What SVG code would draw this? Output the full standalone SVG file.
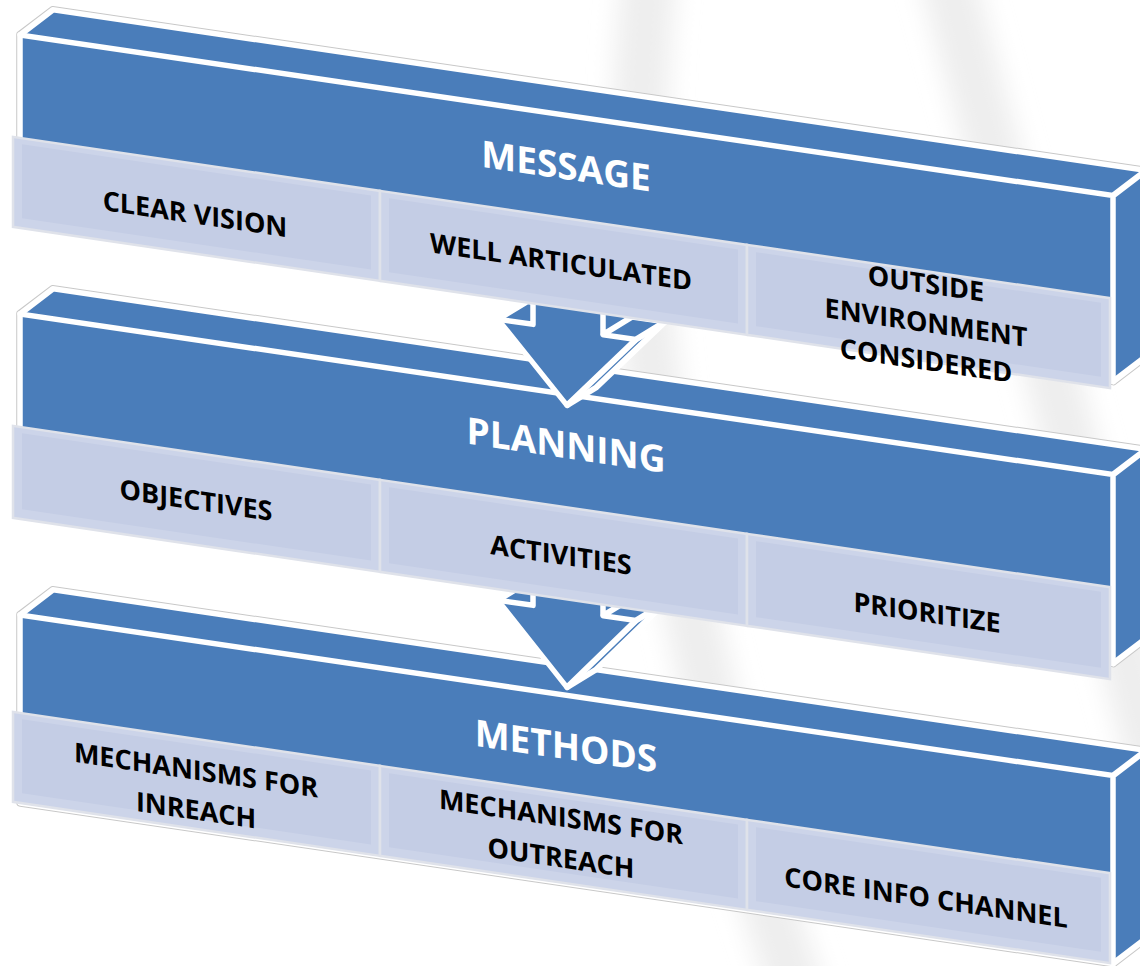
<svg xmlns="http://www.w3.org/2000/svg" width="1140" height="966" viewBox="0 0 1140 966">
<defs>
<filter id="soft" x="-20%" y="-20%" width="140%" height="140%"><feGaussianBlur stdDeviation="12"/></filter>
<style>
.bo{fill:none;stroke:#c8c8c8;stroke-width:7.5;stroke-linejoin:round}
.bf{fill:#4a7dba;stroke:#fff;stroke-width:5.5;stroke-linejoin:round}
.wl{fill:none;stroke:#fff;stroke-width:5.5;stroke-linejoin:round;stroke-linecap:round}
.bx{fill:#ccd4e9;stroke:#dfe2ea;stroke-width:2.5}
.bi{fill:#c4cde5;stroke:none}
.arr{fill:#4a7dba;stroke:#fff;stroke-width:5.5;stroke-linejoin:round}
.t{font-family:"Open Sans","Liberation Sans",sans-serif;font-weight:700;font-size:27px;fill:#000;text-anchor:middle}
.h{font-family:"Open Sans","Liberation Sans",sans-serif;font-weight:700;font-size:37px;fill:#fff;text-anchor:middle}
</style>
</defs>
<rect width="1140" height="966" fill="#fff"/>
<g id="watermark" fill="none" stroke="#eeeeee" stroke-width="55" filter="url(#soft)">
<path d="M650,-30 Q600,420 800,1000"/>
<path d="M945,-30 L1180,860"/>
</g>
<g transform="matrix(1,0.147,0,1,0,0)">
<g id="bar-message">
<polygon class="bo" points="20,32 53,2 1146,2 1146,188 1113,218 20,218"/>
<polygon class="bf" points="20,32 53,2 1146,2 1146,188 1113,218 20,218"/>
<path class="wl" d="M20,32 H1113 L1146,2 M1113,32 V218"/>
<text class="h" x="566" y="96">MESSAGE</text>
</g>
<g id="bar-planning">
<polygon class="bo" points="20,311 53,281 1146,281 1146,470 1113,500 20,500"/>
<polygon class="bf" points="20,311 53,281 1146,281 1146,470 1113,500 20,500"/>
<path class="wl" d="M20,311 H1113 L1146,281 M1113,311 V500"/>
<text class="h" x="566" y="375">PLANNING</text>
</g>
<g id="bar-methods">
<polygon class="bo" points="20,612 53,582 1146,582 1146,770 1113,800 20,800"/>
<polygon class="bf" points="20,612 53,582 1146,582 1146,770 1113,800 20,800"/>
<path class="wl" d="M20,612 H1113 L1146,582 M1113,612 V800"/>
<text class="h" x="566" y="676">METHODS</text>
</g>
<g id="connectors">
<g id="arrow-message-planning">
<polygon class="arr" points="533,170 533,224 527,224 498,246 567,322 596,300 665,224 632,224 632,170"/>
<path class="wl" d="M533,224 V246 H498 M567,322 L636,246 H603 V170 M636,246 L665,224 M603,246 L632,224"/>
</g>
<g id="arrow-planning-methods">
<polygon class="arr" points="533,450 533,505 527,505 498,527 567,604 596,582 665,505 632,505 632,450"/>
<path class="wl" d="M533,505 V527 H498 M567,604 L636,527 H603 V450 M636,527 L665,505 M603,527 L632,505"/>
</g>
</g>
<g id="box-clear-vision">
<rect class="bx" x="13" y="135" width="367" height="90"/>
<rect class="bi" x="22" y="141" width="349" height="74"/>
<text class="t" x="195" y="195">CLEAR VISION</text>
</g>
<g id="box-well-articulated">
<rect class="bx" x="380" y="135" width="367" height="90"/>
<rect class="bi" x="389" y="141" width="349" height="74"/>
<text class="t" x="561" y="189">WELL ARTICULATED</text>
</g>
<g id="box-outside-environment">
<rect class="bx" x="747" y="135" width="363" height="90"/>
<rect class="bi" x="756" y="141" width="345" height="74"/>
<text class="t" x="926" y="157">OUTSIDE</text>
<text class="t" x="926" y="196">ENVIRONMENT</text>
<text class="t" x="926" y="234">CONSIDERED</text>
</g>
<g id="box-objectives">
<rect class="bx" x="13" y="424" width="367" height="92"/>
<rect class="bi" x="22" y="430" width="349" height="76"/>
<text class="t" x="196" y="481">OBJECTIVES</text>
</g>
<g id="box-activities">
<rect class="bx" x="380" y="424" width="367" height="92"/>
<rect class="bi" x="389" y="430" width="349" height="76"/>
<text class="t" x="561" y="482">ACTIVITIES</text>
</g>
<g id="box-prioritize">
<rect class="bx" x="747" y="424" width="363" height="92"/>
<rect class="bi" x="756" y="430" width="345" height="76"/>
<text class="t" x="927" y="486">PRIORITIZE</text>
</g>
<g id="box-inreach">
<rect class="bx" x="13" y="710" width="367" height="90"/>
<rect class="bi" x="22" y="716" width="349" height="74"/>
<text class="t" x="196" y="751">MECHANISMS FOR</text>
<text class="t" x="196" y="791">INREACH</text>
</g>
<g id="box-outreach">
<rect class="bx" x="380" y="710" width="367" height="90"/>
<rect class="bi" x="389" y="716" width="349" height="74"/>
<text class="t" x="561" y="744">MECHANISMS FOR</text>
<text class="t" x="561" y="785">OUTREACH</text>
</g>
<g id="box-core-info">
<rect class="bx" x="747" y="710" width="363" height="90"/>
<rect class="bi" x="756" y="716" width="345" height="74"/>
<text class="t" x="926" y="771">CORE INFO CHANNEL</text>
</g>
</g>
</svg>
